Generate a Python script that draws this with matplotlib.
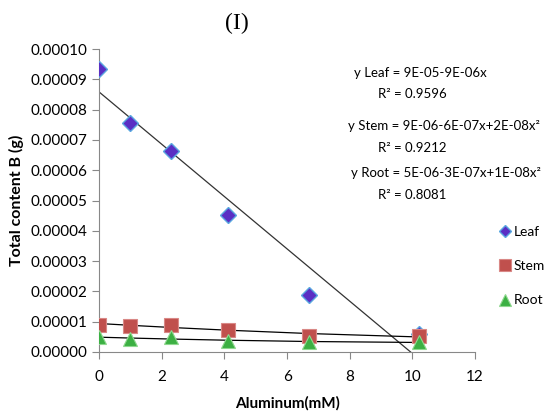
import numpy as np
import matplotlib
matplotlib.use("Agg")
import matplotlib.pyplot as plt

# Werte
aluminum = [0, 1, 2.3, 4.1, 6.7, 10.2]
leaf = [9.35e-5, 7.55e-5, 6.62e-5, 4.52e-5, 1.88e-5, 0.6e-5]
stem = [0.90e-5, 0.87e-5, 0.90e-5, 0.72e-5, 0.54e-5, 0.52e-5]
root = [0.49e-5, 0.42e-5, 0.49e-5, 0.37e-5, 0.33e-5, 0.32e-5]

equations = [
    "y Leaf = 9E-05-9E-06x",
    "R² = 0.9596",
    "y Stem = 9E-06-6E-07x+2E-08x²",
    "R² = 0.9212",
    "y Root = 5E-06-3E-07x+1E-08x²",
    "R² = 0.8081",
]

plt.rcParams["font.family"] = ["Lato", "DejaVu Sans"]

fig = plt.figure(figsize=(5.57, 4.2), dpi=100)
ax = fig.add_axes([0.178, 0.162, 0.675, 0.721])

x = np.array(aluminum)

# Trendlinien
lf = np.polyfit(x, leaf, 1)
x_end = min(x.max(), -lf[1] / lf[0])
xl = np.array([0, x_end])
ax.plot(xl, np.polyval(lf, xl), color="#333333", lw=0.9, zorder=2)
for vals in [stem, root]:
    q = np.polyfit(x, vals, 2)
    ax.plot(x, np.polyval(q, x), color="black", lw=0.9, zorder=2)

ax.plot(x, leaf, "D", ms=8, color="#5a2fc4", mec="#5aa8e0", mew=1.0, ls="none", label="Leaf", zorder=3)
ax.plot(x, stem, "s", ms=10, color="#c0504d", mec="#d98886", mew=0.8, ls="none", label="Stem", zorder=3)
ax.plot(x, root, "^", ms=10, color="#3cb043", mec="#8fd88f", mew=0.8, ls="none", label="Root", zorder=4)

ax.set_xlim(0, 12)
ax.set_ylim(0, 0.0001)
ax.set_xticks(range(0, 13, 2))
ax.set_yticks(np.arange(0, 0.000101, 0.00001))
ax.yaxis.set_major_formatter(matplotlib.ticker.FormatStrFormatter("%.5f"))
ax.tick_params(labelsize=11, color="#888888", length=5)
ax.tick_params(axis="x", pad=8)
for s in ["top", "right"]:
    ax.spines[s].set_visible(False)
for s in ["left", "bottom"]:
    ax.spines[s].set_color("#888888")

ax.set_xlabel("Aluminum(mM)", fontsize=11, fontweight="bold", labelpad=9)
ax.set_ylabel("Total content B (g)", fontsize=11.5, fontweight="bold", labelpad=5)

fig.text(0.425, 0.945, "(I)", family="Liberation Serif", fontsize=17, ha="center", va="center")

ys = [0.826, 0.776, 0.700, 0.647, 0.588, 0.536]
xs = [0.636, 0.679, 0.625, 0.679, 0.630, 0.679]
for t, xx, yy in zip(equations, xs, ys):
    fig.text(xx, yy, t, fontsize=9.5, ha="left", va="center")

fig.legend(loc="upper left", bbox_to_anchor=(0.885, 0.475), frameon=False,
           fontsize=10, labelspacing=1.6, handletextpad=0.1, handlelength=1.0,
           borderaxespad=0, markerscale=0.8)

fig.savefig("out.png", dpi=100)
